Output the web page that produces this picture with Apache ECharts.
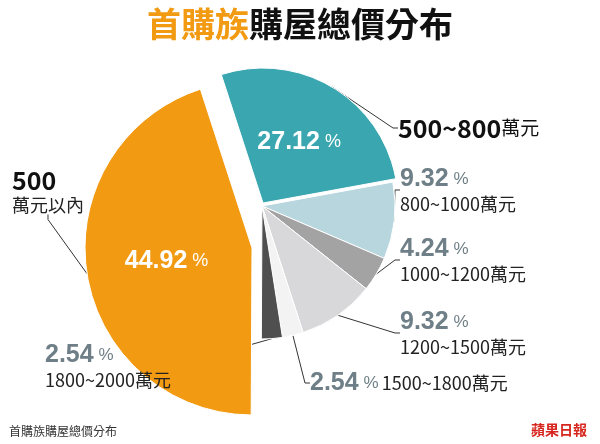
<!DOCTYPE html>
<html><head><meta charset="utf-8">
<script src="https://cdn.jsdelivr.net/npm/echarts@6/dist/echarts.min.js"></script>
<style>html,body{margin:0;background:#fff}#c{width:600px;height:444px}</style>
</head><body><div id="c"></div>
<script>
const categories = ['500~800萬元','800~1000萬元','1000~1200萬元','1200~1500萬元','1500~1800萬元','1800~2000萬元','500萬元以內'];
const values = [27.12, 9.32, 4.24, 9.32, 2.54, 2.54, 44.92];
const colors = ['#3aa7b0','#b8d6dd','#a3a3a3','#d8d8da','#f3f3f3','#4f4f4f','#f19a12'];
const labelPos = [[398,128],[400,192],[400,262],[400,335],[310,383],[45,368],[12,193]];
const F = '"Noto Sans CJK TC", sans-serif';
const chart = echarts.init(document.getElementById('c'));
const rich = {
  big:{fontSize:25,fontWeight:'bold',color:'#6f7f87',fontFamily:'"Liberation Sans Narrow", Arial, sans-serif'},
  pc:{fontSize:17,color:'#6f7f87'},
  nm:{fontSize:18,color:'#222',fontFamily:F,lineHeight:26},
  bnm:{fontSize:25,fontWeight:'bold',color:'#111',fontFamily:F},
  bnm2:{fontSize:19,color:'#111',fontFamily:F}
};
function fmt(p){
  const i=p.dataIndex, v=values[i].toFixed(2);
  if(i===0) return '{bnm|500~800}{bnm2|萬元}';
  if(i===6) return '{bnm|500}\n{nm|萬元以內}';
  if(i===4) return '{big|'+v+'}{pc| %} {nm|'+categories[i]+'}';
  return '{big|'+v+'}{pc| %}\n{nm|'+categories[i]+'}';
}
const groups = [[0],[1,2,3,4,5],[6]];
const geo = [{c:[263,203],r:135},{c:[262,206],r:133},{c:[252,248],r:167}];
const series = groups.map((g,k)=>({
  type:'pie', center:geo[k].c, radius:[0,geo[k].r], startAngle:108, clockwise:true, silent:true,
  itemStyle:{borderColor:'#fff',borderWidth:1},
  data: values.map((v,i)=>({value:v,name:categories[i],
    itemStyle:{color:g.includes(i)?colors[i]:'rgba(0,0,0,0)',borderWidth:g.includes(i)?1:0},
    label:{show:g.includes(i)},labelLine:{show:g.includes(i)}})),
  label:{position:'outside',formatter:fmt,rich:rich,overflow:'none'},
  labelLine:{length:5,length2:5,lineStyle:{color:'#333',width:1}},
  labelLayout:function(p){const l=labelPos[p.dataIndex];return {x:l[0],y:l[1],align:'left',verticalAlign:'middle',hideOverlap:false};}
}));
function inner(c,r,idx){
  return {type:'pie', center:c, radius:[0,r], startAngle:108, silent:true,
    itemStyle:{color:'rgba(0,0,0,0)'},
    data: values.map(v=>({value:v})),
    label:{show:true,position:'inside',formatter:p=>(p.dataIndex===idx)?('{w|'+values[idx].toFixed(2)+'}{s| %}'):'',
      rich:{w:{fontSize:25,fontWeight:'bold',color:'#fff',fontFamily:'Arial'},s:{fontSize:18,color:'#fff'}}},
    labelLine:{show:false}};
}
series.push(inner([252,248],167,6), inner([263,203],135,0));
chart.setOption({
  animation:false,
  title:[{text:'{o|首購族}{k|購屋總價分布}',left:'center',top:2,textStyle:{rich:{
    o:{fontSize:34,fontWeight:'bold',color:'#f19a12',fontFamily:F},
    k:{fontSize:34,fontWeight:'bold',color:'#111',fontFamily:F}}}},
   {text:'首購族購屋總價分布',left:4,bottom:2,textStyle:{fontSize:12,fontWeight:'normal',color:'#333',fontFamily:F}},
   {text:'蘋果日報',right:8,bottom:2,textStyle:{fontSize:14,fontWeight:'bold',color:'#d7261e',fontFamily:F}}],
  series:series
});
</script></body></html>
